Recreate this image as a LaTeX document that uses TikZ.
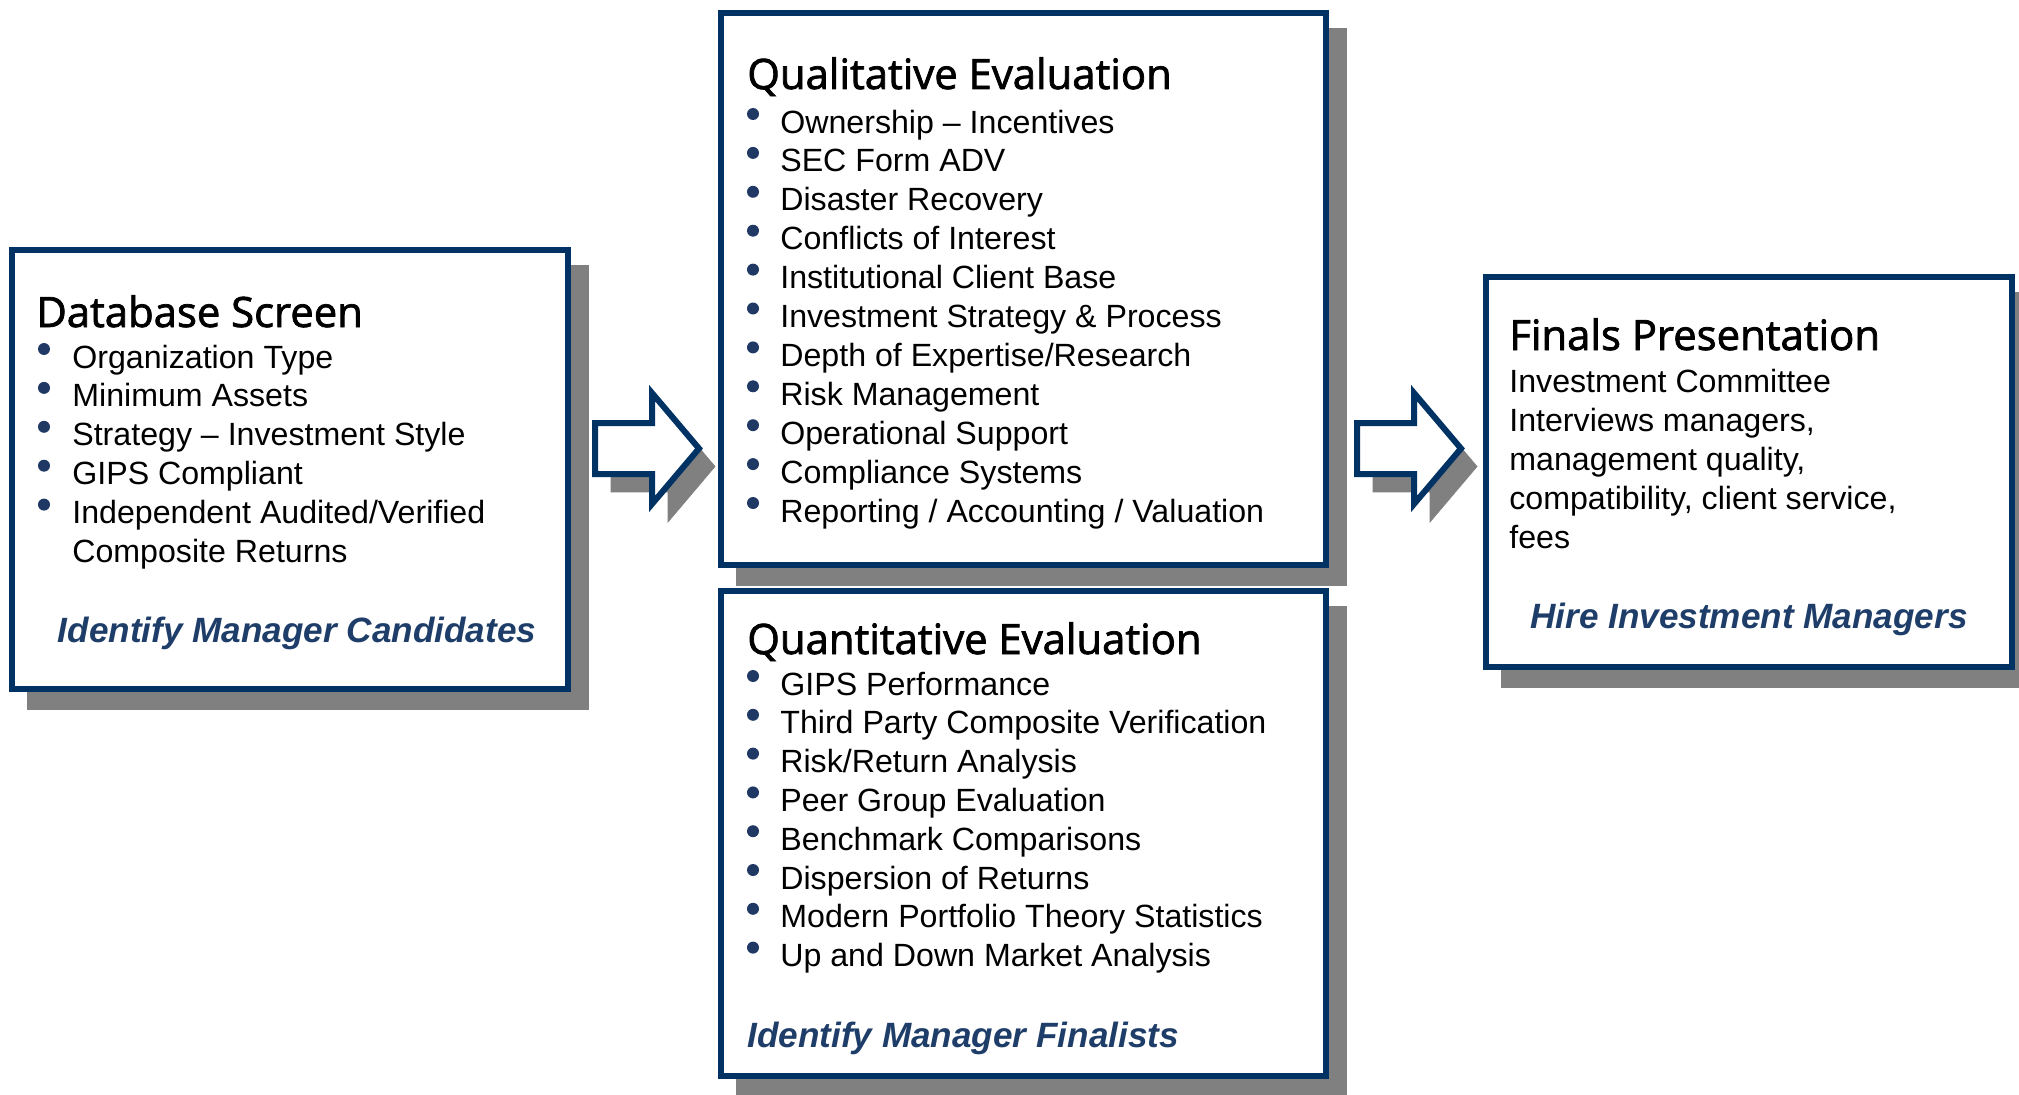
\documentclass[tikz,border=0pt]{standalone}
\usepackage{fontspec}
\setmainfont{Liberation Sans}
\newfontface\headfont{Open Sans}[FakeBold=1.8]
\usepackage{tikz}
\usetikzlibrary{shadows}
\definecolor{navy}{RGB}{0,50,100}
\definecolor{capblue}{RGB}{30,62,105}
\definecolor{dotblue}{RGB}{31,56,100}
\definecolor{shadowgray}{RGB}{128,128,128}
\tikzset{
  panel/.style={
    draw=navy,
    fill=white,
    line width=0.12cm,
    inner sep=0pt,
    copy shadow={shadow xshift=0.36cm, shadow yshift=-0.36cm,
      draw=shadowgray, fill=shadowgray},
  },
  blockarrow/.style={
    draw=navy,
    fill=white,
    line width=0.12cm,
    miter limit=10,
    copy shadow={shadow xshift=0.32cm, shadow yshift=-0.36cm,
      draw=shadowgray, fill=shadowgray},
  },
  heading/.style={
    anchor=base west,
    inner sep=0pt,
    font=\headfont\fontsize{23.8pt}{28pt}\selectfont,
  },
  itemtext/.style={
    anchor=base west,
    inner sep=0pt,
    font=\fontsize{18.3pt}{22pt}\selectfont,
  },
  tagline/.style={
    anchor=base,
    inner sep=0pt,
    text=capblue,
    font=\bfseries\itshape\fontsize{20pt}{24pt}\selectfont,
  },
  bulletdot/.style={fill=dotblue},
}

\begin{document}
\begin{tikzpicture}[x=0.02cm, y=-0.02cm]
  \useasboundingbox (0,0) rectangle (2019,1095);

  % block arrows between the stages
  \coordinate (arrA) at (595,423);
  \coordinate (arrB) at (1357,423);
  \foreach \a in {arrA,arrB}
    \draw[blockarrow] (\a) -- ++(57,0) -- ++(0,-30) -- ++(47,55.5)
      -- ++(-47,55.5) -- ++(0,-30) -- ++(-57,0) -- cycle;

  % stage boxes
  \node[panel, minimum width=11.12cm, minimum height=8.78cm] (screen) at (290,469.5) {};
  \node[panel, minimum width=12.1cm, minimum height=11.04cm] (quali) at (1023.5,289) {};
  \node[panel, minimum width=12.1cm, minimum height=9.7cm] (quanti) at (1023.5,833.5) {};
  \node[panel, minimum width=10.52cm, minimum height=7.8cm] (finals) at (1749,472) {};

  % Database Screen
  \node[heading] (screen-t) at (36,327) {Database Screen};
  \foreach \txt [count=\i] in {Organization Type, Minimum Assets,
      Strategy -- Investment Style, GIPS Compliant, Independent Audited/Verified} {
    \fill[bulletdot] (44,368+38.9*\i-38.9-19) circle (0.12cm);
    \node[itemtext] (screen-\i) at (72,368+38.9*\i-38.9) {\txt};
  }
  \node[itemtext] (screen-6) at (72,562.5) {Composite Returns};
  \node[tagline] (screen-c) at (297,642) {Identify Manager Candidates};

  % Qualitative Evaluation
  \node[heading] (quali-t) at (747,89) {Qualitative Evaluation};
  \foreach \txt [count=\i] in {Ownership -- Incentives, SEC Form ADV,
      Disaster Recovery, Conflicts of Interest, Institutional Client Base,
      Investment Strategy \& Process, Depth of Expertise/Research,
      Risk Management, Operational Support, Compliance Systems,
      Reporting / Accounting / Valuation} {
    \fill[bulletdot] (753,133+38.9*\i-38.9-19) circle (0.12cm);
    \node[itemtext] (quali-\i) at (780,133+38.9*\i-38.9) {\txt};
  }

  % Quantitative Evaluation
  \node[heading] (quanti-t) at (747,654) {Quantitative Evaluation};
  \foreach \txt [count=\i] in {GIPS Performance, Third Party Composite Verification,
      Risk/Return Analysis, Peer Group Evaluation, Benchmark Comparisons,
      Dispersion of Returns, Modern Portfolio Theory Statistics,
      Up and Down Market Analysis} {
    \fill[bulletdot] (753,695+38.8*\i-38.8-19) circle (0.12cm);
    \node[itemtext] (quanti-\i) at (780,695+38.8*\i-38.8) {\txt};
  }
  \node[tagline, anchor=base west] (quanti-c) at (747,1047) {Identify Manager Finalists};

  % Finals Presentation
  \node[heading] (finals-t) at (1509,350) {Finals Presentation};
  \foreach \txt [count=\i] in {Investment Committee, {Interviews managers,},
      {management quality,}, {compatibility, client service,}, fees} {
    \node[itemtext] (finals-\i) at (1509,392+39*\i-39) {\txt};
  }
  \node[tagline] (finals-c) at (1749,628) {Hire Investment Managers};
\end{tikzpicture}
\end{document}
